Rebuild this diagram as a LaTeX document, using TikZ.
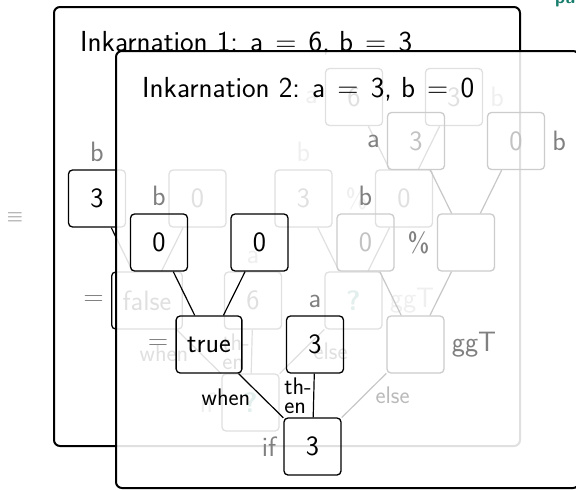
\documentclass[tikz,border=0pt]{standalone}
\usepackage{fontspec}
\definecolor{tealA}{RGB}{23,125,108}
\definecolor{labgray}{gray}{0.5}
\definecolor{valgray}{gray}{0.76}
\definecolor{boxgray}{gray}{0.80}
\definecolor{edgegray}{gray}{0.78}
\definecolor{elsegray}{gray}{0.73}
\newcommand{\myeqsp}{\hspace{0.42em}=\hspace{0.42em}}
\tikzset{
  box/.style={draw=black, line width=1.3pt, rounded corners=4pt, minimum width=57pt, minimum height=57pt, inner xsep=11pt, inner ysep=0pt, font=\sffamily\fontsize{28}{30}\selectfont, text=black},
  gbox/.style={box, draw=boxgray, text=valgray},
  nlab/.style={text=labgray, inner sep=0pt, font=\sffamily\fontsize{28}{30}\selectfont},
  elab/.style={inner sep=0pt, font=\sffamily\fontsize{24}{19}\selectfont, align=left},
  edge/.style={draw=black, line width=1.2pt},
  gedge/.style={draw=edgegray, line width=1.2pt},
  frame/.style={draw=black, line width=2pt, rounded corners=6pt},
  title/.style={anchor=base west, inner sep=0pt, font=\sffamily\fontsize{29}{30}\selectfont},
  qmark/.style={text=tealA, font=\sffamily\bfseries\fontsize{28}{30}\selectfont},
}
\begin{document}
\begin{tikzpicture}[x=1pt, y=-1pt, label distance=7pt]
\clip (0,0) rectangle (576,490);
\fill[white] (0,0) rectangle (576,490);
% decorations outside frames
\node[text=black!45, inner sep=0pt, font=\fontsize{22}{22}\selectfont] (menu) at (15,218) {$\equiv$};
\node[anchor=base west, inner sep=0pt, text=tealA, font=\sffamily\bfseries\fontsize{18}{18}\selectfont] (hdr) at (555,3) {pu};
% ---------- Frame 1 ----------
\draw[frame, fill=white] (54,7) rectangle (520,446);
\node[title] (T1) at (80,51) {Inkarnation 1: a\myeqsp 6, b\myeqsp 3};
\begin{scope}[shift={(-62,-44)}]
\node[box, qmark, label={[nlab]left:if}] (Aif) at (312.5,446.5) {?};
\node[box, label={[nlab]left:=}] (Aeq) at (209,344.5) {false};
\node[box, label={[nlab]above:a}] (Aa) at (315,344.5) {6};
\node[box, qmark, label={[nlab]right:ggT}] (AggT) at (415.5,344.5) {?};
\node[box, label={[nlab]above:b}] (Ab) at (159,242.5) {3};
\node[box] (Az) at (259.5,242.5) {0};
\node[box, label={[nlab]above:b}] (Ab2) at (365.5,242.5) {3};
\node[box, label={[nlab]left:\%}] (Amod) at (466,242.5) {0};
\node[box, label={[nlab]left:a}] (Aa2) at (416,141) {6};
\node[box, label={[nlab]right:b}] (Ab3) at (516,141) {3};
\draw[edge] (Aif) -- node[elab, midway, anchor=east, xshift=-10pt, yshift=-1.5pt]{when} (Aeq);
\draw[edge] (Aif) -- node[elab, midway, anchor=east, xshift=-1.5pt]{th-\\en} (Aa);
\draw[edge] (Aif) -- node[elab, midway, anchor=west, xshift=11pt]{else} (AggT);
\draw[edge] (Ab) -- (Aeq);
\draw[edge] (Az) -- (Aeq);
\draw[edge] (Ab2) -- (AggT);
\draw[edge] (Amod) -- (AggT);
\draw[edge] (Aa2) -- (Amod);
\draw[edge] (Ab3) -- (Amod);
\end{scope}
% ---------- Frame 2 ----------
\draw[frame, fill=white, fill opacity=0.88] (116,51) rectangle (579,488);
\node[title] (T2) at (142,97) {Inkarnation 2: a\myeqsp 3, b\myeqsp 0};
\node[box, label={[nlab]left:if}] (Bif) at (312.5,446.5) {3};
\node[box, label={[nlab]left:=}] (Beq) at (209,344.5) {true};
\node[box, label={[nlab]above:a}] (Ba) at (315,344.5) {3};
\node[gbox, label={[nlab]right:ggT}] (BggT) at (415.5,344.5) {};
\node[box, label={[nlab]above:b}] (Bb) at (159,242.5) {0};
\node[box] (Bz) at (259.5,242.5) {0};
\node[gbox, label={[nlab]above:b}] (Bb2) at (365.5,242.5) {0};
\node[gbox, label={[nlab]left:\%}] (Bmod) at (466,242.5) {};
\node[gbox, label={[nlab]left:a}] (Ba2) at (416,141) {3};
\node[gbox, label={[nlab]right:b}] (Bb3) at (516,141) {0};
\draw[edge] (Bif) -- node[elab, midway, anchor=east, xshift=-10pt, yshift=-1.5pt]{when} (Beq);
\draw[edge] (Bif) -- node[elab, midway, anchor=east, xshift=-1.5pt]{th-\\en} (Ba);
\draw[gedge] (Bif) -- node[elab, text=elsegray, midway, anchor=west, xshift=11pt]{else} (BggT);
\draw[edge] (Bb) -- (Beq);
\draw[edge] (Bz) -- (Beq);
\draw[gedge] (Bb2) -- (BggT);
\draw[gedge] (Bmod) -- (BggT);
\draw[gedge] (Ba2) -- (Bmod);
\draw[gedge] (Bb3) -- (Bmod);
\end{tikzpicture}
\end{document}
